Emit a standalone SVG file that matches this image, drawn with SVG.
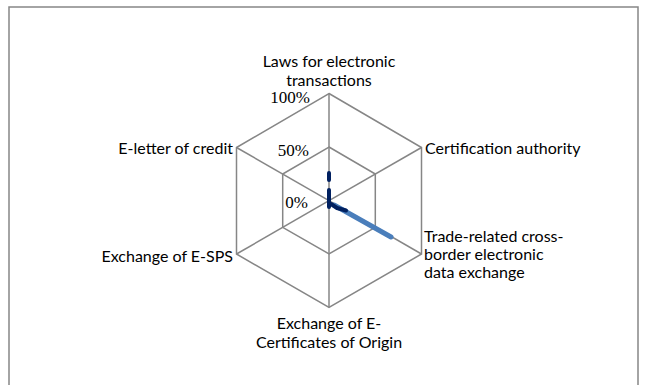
<svg xmlns="http://www.w3.org/2000/svg" width="645" height="385" viewBox="0 0 645 385">
<style>
.frame{fill:#fff;stroke:#868686;stroke-width:1.5}
.grid{fill:none;stroke:#868686;stroke-width:1.5}
.lbl{font-family:Lato,"Liberation Sans",sans-serif;font-size:16px;fill:#000}
.pct{font-family:"Liberation Serif",serif;font-size:17px;fill:#000}
.s1{fill:none;stroke:#002060;stroke-width:4;stroke-linecap:round;stroke-linejoin:round}
.s2{fill:none;stroke:#4A7EBB;stroke-width:5;stroke-linecap:round}
</style>
<rect class="frame" x="9" y="7" width="629" height="400"/>
<g id="grid">
<polygon class="grid" points="329,93.5 421.5,147.5 421.5,254 329,307.5 236.5,254 236.5,147.5"/>
<polygon class="grid" points="329,147 375.3,174 375.3,227.3 329,254 282.7,227.3 282.7,174"/>
<g id="connectors">
<line class="grid" x1="329" y1="200.7" x2="329" y2="93.5"/>
<line class="grid" x1="329" y1="200.7" x2="421.5" y2="147.5"/>
<line class="grid" x1="329" y1="200.7" x2="421.5" y2="254"/>
<line class="grid" x1="329" y1="200.7" x2="329" y2="307.5"/>
<line class="grid" x1="329" y1="200.7" x2="236.5" y2="254"/>
<line class="grid" x1="329" y1="200.7" x2="236.5" y2="147.5"/>
</g>
</g>
<g id="axis-labels">
<text class="pct" x="310" y="103" text-anchor="end">100%</text>
<text class="pct" x="309" y="156" text-anchor="end">50%</text>
<text class="pct" x="308" y="208" text-anchor="end">0%</text>
</g>
<g id="series">
<path class="s2" d="M334,205 L391,237"/>
<path class="s1" d="M329,173 L329,180"/>
<path class="s1" d="M329,190 L329,207"/>
<path class="s1" d="M331,204 L337,208 L346,210.5"/>
</g>
<g id="n-laws"><text class="lbl" x="329" y="67" text-anchor="middle">Laws for electronic</text><text class="lbl" x="329" y="86" text-anchor="middle">transactions</text></g>
<g id="n-cert"><text class="lbl" x="425" y="154">Certification authority</text></g>
<g id="n-trade"><text class="lbl" x="424" y="242">Trade-related cross-</text><text class="lbl" x="424" y="260">border electronic</text><text class="lbl" x="424" y="278">data exchange</text></g>
<g id="n-origin"><text class="lbl" x="329" y="329" text-anchor="middle">Exchange of E-</text><text class="lbl" x="329" y="348" text-anchor="middle">Certificates of Origin</text></g>
<g id="n-sps"><text class="lbl" x="233" y="262" text-anchor="end">Exchange of E-SPS</text></g>
<g id="n-loc"><text class="lbl" x="233" y="154" text-anchor="end">E-letter of credit</text></g>
</svg>
